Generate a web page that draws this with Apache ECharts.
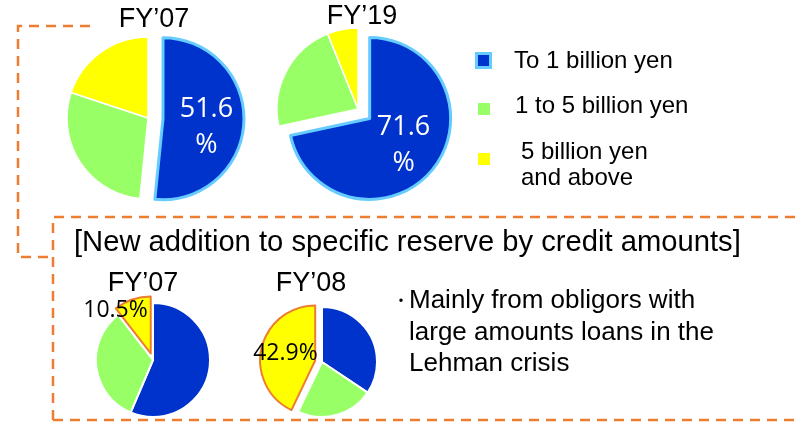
<!DOCTYPE html>
<html>
<head>
<meta charset="utf-8">
<script src="https://cdn.jsdelivr.net/npm/echarts@6/dist/echarts.min.js"></script>
<style>
  html, body { margin: 0; padding: 0; background: #fff; }
  #chart { width: 797px; height: 422px; }
</style>
</head>
<body>
<div id="chart"></div>
<script>
// size bands, in the order they run clockwise from 12 o'clock
const bands = ["To 1 billion yen", "1 to 5 billion yen", "5 billion yen\nand above"];
const bandColors = ["#0033cc", "#99ff66", "#ffff00"];

// upper pair: share of the portfolio by credit amount
const portfolioYears = ["FY’07", "FY’19"];
const portfolio07 = [51.6, 28.5, 19.9];
const portfolio19 = [71.6, 22.3, 6.1];

// lower pair: new addition to specific reserve by credit amount
const reserveTitle = "[New addition to specific reserve by credit amounts]";
const reserveYears = ["FY’07", "FY’08"];
const reserve07 = [56.4, 33.1, 10.5];
const reserve08 = [34.4, 22.7, 42.9];

const note = ["Mainly from obligors with", "large amounts loans in the", "Lehman crisis"];

const ORANGE = "#ed7d31";
const SKY = "#66ccff";
const FONT = "Liberation Sans";
const NUM_FONT = "Open Sans";

const chart = echarts.init(document.getElementById("chart"), null, { renderer: "canvas" });

// the empty "s" line and the padding only nudge a label off the slice centre
function topPie(values, center, topGap) {
  return {
    type: "pie",
    center: center,
    radius: 81,
    startAngle: 90,
    clockwise: true,
    selectedMode: "single",
    selectedOffset: 15,
    animation: false,
    silent: true,
    labelLine: { show: false },
    label: { show: false },
    data: values.map((v, i) => {
      const item = {
        name: bands[i],
        value: v,
        itemStyle: { color: bandColors[i], borderColor: "#fff", borderWidth: 1.5 }
      };
      if (i === 0) {
        item.selected = true;
        item.itemStyle = { color: bandColors[0], borderColor: SKY, borderWidth: 3 };
        item.select = { itemStyle: { color: bandColors[0], borderColor: SKY, borderWidth: 3 } };
        item.label = {
          show: true,
          position: "inside",
          formatter: topGap ? "{s| }\n{c}\n%" : "{c}\n%",
          color: "#fff",
          fontFamily: NUM_FONT,
          fontSize: 27,
          lineHeight: 36,
          rich: { s: { fontSize: 1, lineHeight: topGap } }
        };
      }
      return item;
    })
  };
}

function bottomPie(values, center, radius, labelFmt, labelPad) {
  return {
    type: "pie",
    center: center,
    radius: radius,
    startAngle: 90,
    clockwise: true,
    selectedMode: "single",
    selectedOffset: 7,
    animation: false,
    silent: true,
    labelLine: { show: false },
    label: { show: false },
    data: values.map((v, i) => {
      const item = {
        name: bands[i],
        value: v,
        itemStyle: { color: bandColors[i], borderColor: "#fff", borderWidth: 2 }
      };
      if (i === 2) {
        item.selected = true;
        item.itemStyle = { color: bandColors[2], borderColor: ORANGE, borderWidth: 2 };
        item.select = { itemStyle: { color: bandColors[2], borderColor: ORANGE, borderWidth: 2 } };
        item.label = {
          show: true,
          position: "inside",
          formatter: labelFmt,
          color: "#000",
          fontFamily: NUM_FONT,
          fontSize: 23,
          lineHeight: 26,
          padding: labelPad
        };
      }
      return item;
    })
  };
}

function txt(x, y, text, size, extra) {
  return {
    type: "text",
    x: x,
    y: y,
    silent: true,
    style: Object.assign({
      text: text,
      fill: "#000",
      font: size + "px '" + FONT + "'",
      textAlign: "center",
      textVerticalAlign: "middle"
    }, extra || {})
  };
}

function dashed(points) {
  return {
    type: "polyline",
    silent: true,
    shape: { points: points },
    style: { stroke: ORANGE, lineWidth: 2.5, lineDash: [10, 7], fill: null }
  };
}

const legendMarks = [
  { type: "rect", shape: { x: 476.5, y: 53.5, width: 14, height: 14 },
    style: { fill: bandColors[0], stroke: SKY, lineWidth: 3 } },
  { type: "rect", shape: { x: 478, y: 103, width: 12, height: 12 }, style: { fill: bandColors[1] } },
  { type: "rect", shape: { x: 478, y: 153, width: 12, height: 12 }, style: { fill: bandColors[2] } }
];

const graphics = [
  // connector bracket and lower dashed frame
  dashed([[90, 26], [18, 26], [18, 257], [54, 257]]),
  dashed([[53, 420], [53, 217], [797, 217]]),
  dashed([[53, 420], [797, 420]]),
  // pie titles
  txt(154, 20, portfolioYears[0], 27),
  txt(362, 17, portfolioYears[1], 27),
  txt(143, 284, reserveYears[0], 27),
  txt(311, 284, reserveYears[1], 27),
  // section title
  txt(74, 243, reserveTitle, 29.2, { textAlign: "left" }),
  // legend
  ...legendMarks.map(m => Object.assign({ silent: true }, m)),
  txt(514, 61, bands[0], 24, { textAlign: "left" }),
  txt(515, 106, bands[1], 24, { textAlign: "left" }),
  txt(521, 165, bands[2], 24, { textAlign: "left", lineHeight: 26 }),
  // note
  txt(401, 300, "・", 16, { font: "16px 'Noto Sans CJK JP'" }),
  ...note.map((line, i) => txt(409, 301 + i * 31.5, line, 26, { textAlign: "left" }))
];

chart.setOption({
  backgroundColor: "#fff",
  animation: false,
  series: [
    topPie(portfolio07, [148, 118], 12),
    topPie(portfolio19, [358, 109], 0),
    bottomPie(reserve07, [153, 360], 57, "{c}%\n ", [0, 50, 0, 0]),
    bottomPie(reserve08, [322, 362], 55, "{c}%", [0, 0, 0, 0])
  ],
  graphic: graphics
});
</script>
</body>
</html>
